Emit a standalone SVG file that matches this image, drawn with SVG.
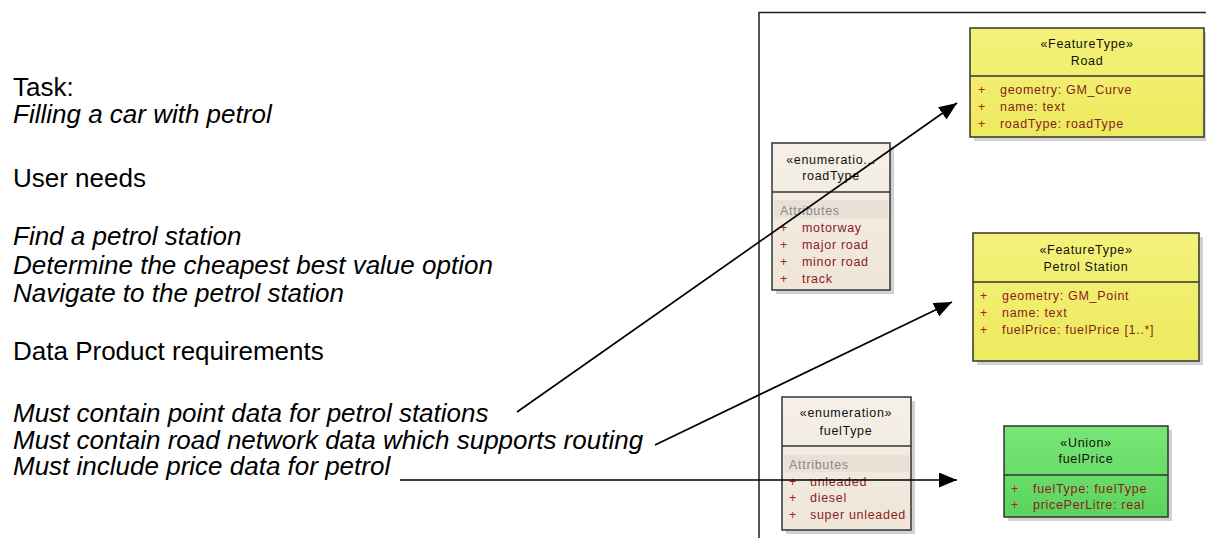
<svg xmlns="http://www.w3.org/2000/svg" width="1206" height="538" viewBox="0 0 1206 538">
<defs>
<linearGradient id="gy" x1="0" y1="0" x2="0" y2="1"><stop offset="0" stop-color="#f4f27a"/><stop offset="1" stop-color="#ecea5e"/></linearGradient>
<linearGradient id="gg" x1="0" y1="0" x2="0" y2="1"><stop offset="0" stop-color="#78e676"/><stop offset="1" stop-color="#5cd35e"/></linearGradient>
<linearGradient id="gb" x1="0" y1="0" x2="0" y2="1"><stop offset="0" stop-color="#f6f0e8"/><stop offset="1" stop-color="#efe5d8"/></linearGradient>
<marker id="ah" markerUnits="userSpaceOnUse" markerWidth="20" markerHeight="16" refX="18" refY="7.5" orient="auto"><path d="M0,0 L18,7.5 L0,15 z" fill="#000"/></marker>
</defs>
<style>
.t{font-family:"Liberation Sans",Arial,sans-serif;font-size:26px;fill:#000}
.i{font-style:italic}
.box{stroke:#333;stroke-width:1.5}
.sh{fill:#999;opacity:0.45}
.div{stroke:#333;stroke-width:1.5}
.u{font-family:"Liberation Sans",Arial,sans-serif;font-size:12.5px;letter-spacing:0.7px}
.h{fill:#111;text-anchor:middle}
.a{fill:#8a1c1c}
.p{fill:#b02020}
.ab{fill:#888}
.band{fill:#e9e1d6}
.c{stroke:#000;stroke-width:1.7;fill:none}
.fr{stroke:#222;stroke-width:1.5;fill:none}
</style>
<rect width="1206" height="538" fill="#fff"/>
<g id="text">
<text class="t" x="13" y="96">Task:</text>
<text class="t i" x="13" y="123">Filling a car with petrol</text>
<text class="t" x="13" y="187">User needs</text>
<text class="t i" x="13" y="245">Find a petrol station</text>
<text class="t i" x="13" y="274">Determine the cheapest best value option</text>
<text class="t i" x="13" y="302">Navigate to the petrol station</text>
<text class="t" x="13" y="360">Data Product requirements</text>
<text class="t i" x="13" y="422">Must contain point data for petrol stations</text>
<text class="t i" x="13" y="449">Must contain road network data which supports routing</text>
<text class="t i" x="13" y="475">Must include price data for petrol</text>
</g>
<g id="frame">
<path class="fr" d="M759,538 L759,12.5 L1206,12.5"/>
</g>
<g id="roadType">
<rect class="sh" x="776" y="147" width="118" height="147"/>
<rect class="box" x="772" y="143" width="118" height="147" fill="url(#gb)"/>
<line class="div" x1="772" y1="192" x2="890" y2="192"/>
<rect class="band" x="774" y="200" width="114" height="18"/>
<text class="u h" x="831" y="164">«enumeratio...</text>
<text class="u h" x="831" y="180">roadType</text>
<text class="u ab" x="780" y="215">Attributes</text>
<text class="u p" x="780" y="232">+</text><text class="u a" x="802" y="232">motorway</text>
<text class="u p" x="780" y="249">+</text><text class="u a" x="802" y="249">major road</text>
<text class="u p" x="780" y="266">+</text><text class="u a" x="802" y="266">minor road</text>
<text class="u p" x="780" y="283">+</text><text class="u a" x="802" y="283">track</text>
</g>
<g id="fuelType">
<rect class="sh" x="786" y="401" width="129" height="133"/>
<rect class="box" x="782" y="397" width="129" height="133" fill="url(#gb)"/>
<line class="div" x1="782" y1="446" x2="911" y2="446"/>
<rect class="band" x="784" y="455" width="125" height="17"/>
<text class="u h" x="846" y="417">«enumeration»</text>
<text class="u h" x="846" y="435">fuelType</text>
<text class="u ab" x="789" y="469">Attributes</text>
<text class="u p" x="789" y="486">+</text><text class="u a" x="810" y="486">unleaded</text>
<text class="u p" x="789" y="502">+</text><text class="u a" x="810" y="502">diesel</text>
<text class="u p" x="789" y="519">+</text><text class="u a" x="810" y="519">super unleaded</text>
</g>
<g id="Road">
<rect class="sh" x="974" y="32" width="234" height="109"/>
<rect class="box" x="970" y="28" width="234" height="109" fill="url(#gy)"/>
<line class="div" x1="970" y1="76" x2="1204" y2="76"/>
<text class="u h" x="1087" y="48">«FeatureType»</text>
<text class="u h" x="1087" y="65">Road</text>
<text class="u p" x="978" y="94">+</text><text class="u a" x="1000" y="94">geometry:  GM_Curve</text>
<text class="u p" x="978" y="111">+</text><text class="u a" x="1000" y="111">name:  text</text>
<text class="u p" x="978" y="128">+</text><text class="u a" x="1000" y="128">roadType:  roadType</text>
</g>
<g id="PetrolStation">
<rect class="sh" x="977" y="237" width="226" height="128"/>
<rect class="box" x="973" y="233" width="226" height="128" fill="url(#gy)"/>
<line class="div" x1="973" y1="282" x2="1199" y2="282"/>
<text class="u h" x="1086" y="254">«FeatureType»</text>
<text class="u h" x="1086" y="271">Petrol Station</text>
<text class="u p" x="980" y="300">+</text><text class="u a" x="1002" y="300">geometry:  GM_Point</text>
<text class="u p" x="980" y="317">+</text><text class="u a" x="1002" y="317">name:  text</text>
<text class="u p" x="980" y="334">+</text><text class="u a" x="1002" y="334">fuelPrice:  fuelPrice [1..*]</text>
</g>
<g id="fuelPrice">
<rect class="sh" x="1008" y="430" width="164" height="91"/>
<rect class="box" x="1004" y="426" width="164" height="91" fill="url(#gg)"/>
<line class="div" x1="1004" y1="475" x2="1168" y2="475"/>
<text class="u h" x="1086" y="447">«Union»</text>
<text class="u h" x="1086" y="463">fuelPrice</text>
<text class="u p" x="1011" y="493">+</text><text class="u a" x="1033" y="493">fuelType:  fuelType</text>
<text class="u p" x="1011" y="509">+</text><text class="u a" x="1033" y="509">pricePerLitre:  real</text>
</g>
<g id="connectors">
<line class="c" x1="517" y1="412" x2="957" y2="103" marker-end="url(#ah)"/>
<line class="c" x1="655" y1="445" x2="952" y2="302" marker-end="url(#ah)"/>
<line class="c" x1="400" y1="480" x2="957" y2="480" marker-end="url(#ah)"/>
</g>
</svg>
